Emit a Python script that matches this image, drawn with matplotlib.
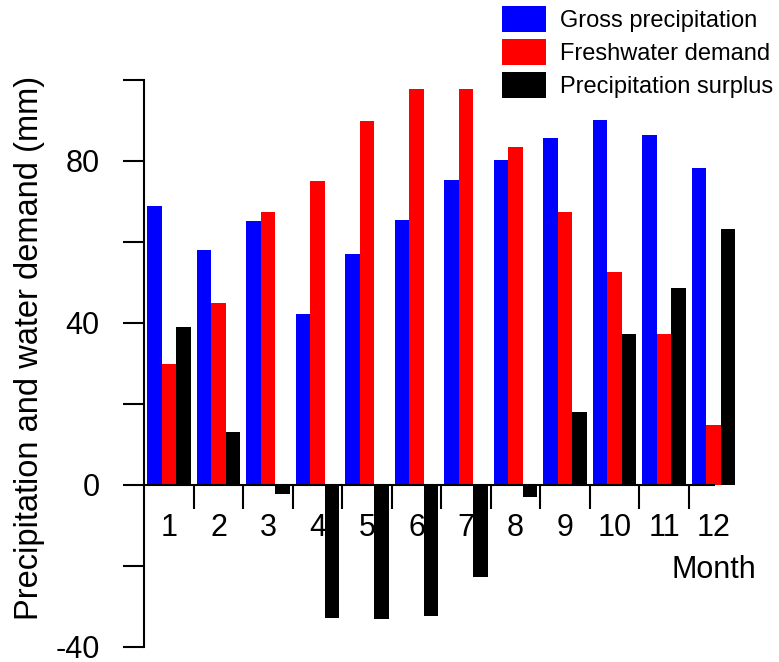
import matplotlib
matplotlib.use("Agg")
import matplotlib.pyplot as plt
import numpy as np

plt.rcParams['font.family'] = ['Liberation Sans', 'DejaVu Sans']
plt.rcParams['axes.unicode_minus'] = False

# Data
months = np.arange(1, 13)
month_labels = [str(m) for m in months]
gross_precip = [69, 58, 65.3, 42.2, 57, 65.5, 75.3, 80.2, 85.8, 90.1, 86.4, 78.2]
water_demand = [30, 45, 67.4, 75.1, 90, 97.7, 97.8, 83.4, 67.5, 52.6, 37.4, 14.8]
precip_surplus = [39, 13.2, -2.2, -32.8, -33, -32.3, -22.6, -3.0, 18.1, 37.4, 48.7, 63.1]
series_names = ['Gross precipitation', 'Freshwater demand', 'Precipitation surplus']

W, H = 779, 662
fig = plt.figure(figsize=(W / 100, H / 100), dpi=100)
ax = fig.add_axes([144.3 / W, 1 - 647 / H, 594 / W, 567 / H])

bw = 0.295
b1 = ax.bar(months - bw, gross_precip, bw, color='#0000ff', linewidth=0)
b2 = ax.bar(months, water_demand, bw, color='#ff0000', linewidth=0)
b3 = ax.bar(months + bw, precip_surplus, bw, color='#000000', linewidth=0)

ax.set_xlim(0.5, 12.5)
ax.set_ylim(-40, 100)

# spines: left axis plus a zero line along the bottom
for s in ['top', 'right']:
    ax.spines[s].set_visible(False)
ax.spines['left'].set_linewidth(1.5)
ax.spines['bottom'].set_position(('data', 0))
ax.spines['bottom'].set_bounds(0.5, 12.0)
ax.spines['bottom'].set_linewidth(1.5)

# y ticks
ax.set_yticks([-40, 0, 40, 80])
ax.set_yticks([-20, 20, 60, 100], minor=True)
ax.tick_params(axis='y', which='both', direction='out', length=15, width=1.5,
               labelsize=22, pad=17)

# x ticks: separators between months, labels centred on months
ax.set_xticks(months[:-1] + 0.5)
ax.set_xticklabels([])
ax.set_xticks(months, minor=True)
ax.set_xticklabels(month_labels, minor=True)
ax.tick_params(axis='x', which='major', direction='out', length=17, width=1.5)
ax.tick_params(axis='x', which='minor', length=0, labelsize=22, pad=20)

fig.text(756 / W, 1 - 578 / H, 'Month', fontsize=22, ha='right', va='baseline')
fig.text(30 / W, 0.474, 'Precipitation and water demand (mm)', fontsize=23.5,
         rotation=90, ha='center', va='center')

fs = 17
fpx = fs * 100 / 72
ax.legend([b1, b2, b3], series_names, loc='upper left',
          bbox_to_anchor=(502 / W, 1 - 6.0 / H), bbox_transform=fig.transFigure,
          frameon=False, borderpad=0, borderaxespad=0, fontsize=fs,
          handlelength=44 / fpx, handleheight=1.33,
          handletextpad=14 / fpx, labelspacing=0.28)

fig.savefig('out.png', dpi=100)
